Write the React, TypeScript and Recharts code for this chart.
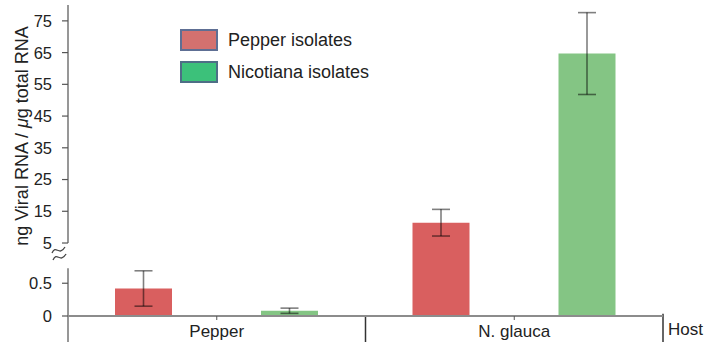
import React from 'react';
import {
  BarChart,
  Bar,
  XAxis,
  YAxis,
  ErrorBar,
  ReferenceLine,
  Legend,
} from 'recharts';

const hosts = ['Pepper', 'N. glauca'];
const pepperIsolates = [0.42, 11.4];
const pepperIsolatesSd = [0.27, 4.2];
const nicotianaIsolates = [0.08, 64.7];
const nicotianaIsolatesSd = [0.04, 12.9];
const yTicks = [0, 0.5, 5, 15, 25, 35, 45, 55, 65, 75];

// broken y axis: 0..0.5 stretched below the break, 5..80 above it
const LOWER_GAIN = 2.065;
const BREAK_AT = 2.3;
const UPPER_GAIN = 0.1;
const AXIS_TOP = BREAK_AT + (80 - 5) * UPPER_GAIN;
const LOWER_TOP = 1.505;
const FRAME_BOTTOM = -0.85;

const toAxis = (v: number) => (v <= 1 ? v * LOWER_GAIN : BREAK_AT + (v - 5) * UPPER_GAIN);
const axisTicks = yTicks.map(toAxis);

const spread = (v: number, e: number) => [toAxis(v) - toAxis(v - e), toAxis(v + e) - toAxis(v)];

const data = hosts.map((host, i) => ({
  host,
  pepper: toAxis(pepperIsolates[i]),
  pepperErr: spread(pepperIsolates[i], pepperIsolatesSd[i]),
  nicotiana: toAxis(nicotianaIsolates[i]),
  nicotianaErr: spread(nicotianaIsolates[i], nicotianaIsolatesSd[i]),
}));

const FONT = '"Liberation Sans", Arial, Helvetica, sans-serif';
const AXIS_GREY = '#8c8c8c';

const legendItems = [
  { label: 'Pepper isolates', fill: '#D4716F', border: '#5E6F94' },
  { label: 'Nicotiana isolates', fill: '#3CC17A', border: '#4E6E86' },
];

const tickLabel = (d: number) => {
  const i = axisTicks.findIndex((t) => Math.abs(t - d) < 1e-6);
  return i >= 0 ? String(yTicks[i]) : '';
};

const YTick = (props: any) => {
  const { x, y, payload } = props;
  const label = tickLabel(payload.value);
  return (
    <g>
      {/* tick mark */}
      <line x1={x + 10} x2={x + 16} y1={y} y2={y} stroke="#555" strokeWidth={1.2} />
      <text x={x} y={y} dy="0.36em" textAnchor="end" fill="#222" fontSize={16.5} fontFamily={FONT}>
        {label}
      </text>
      {label === '5' && (
        <g fill="none" stroke="#444" strokeWidth={1.3}>
          <path d={`M${x} ${y + 10} C${x + 4} ${y + 1} ${x + 7} ${y + 14} ${x + 13} ${y + 4}`} />
          <path d={`M${x + 1} ${y + 17} C${x + 5} ${y + 8} ${x + 8} ${y + 21} ${x + 14} ${y + 11}`} />
        </g>
      )}
    </g>
  );
};

const YLabel = (props: any) => {
  const { viewBox } = props;
  const cx = viewBox.x + 14;
  const cy = viewBox.y + 131;
  return (
    <text
      x={cx}
      y={cy}
      transform={`rotate(-90 ${cx} ${cy})`}
      textAnchor="middle"
      dominantBaseline="central"
      fontSize={18}
      fontFamily={FONT}
      fill="#222"
    >
      ng Viral RNA / <tspan fontStyle="italic">μ</tspan>g total RNA
    </text>
  );
};

const renderLegend = () => (
  <div style={{ fontFamily: FONT, fontSize: 18, color: '#222' }}>
    {legendItems.map((item) => (
      <div key={item.label} style={{ display: 'flex', alignItems: 'center', height: 22, marginBottom: 10 }}>
        <span
          style={{
            width: 34,
            height: 18,
            background: item.fill,
            border: `2px solid ${item.border}`,
            marginRight: 10,
          }}
        />
        {item.label}
      </div>
    ))}
  </div>
);

export default function App() {
  return (
    <div style={{ position: 'absolute', left: 0, top: 0, width: 706, height: 342, background: '#fff' }}>
      <BarChart
        width={706}
        height={342}
        data={data}
        margin={{ top: 5, right: 43, bottom: 0, left: 8 }}
        barSize={57}
        barGap={89}
      >
        <XAxis
          dataKey="host"
          height={26}
          axisLine={{ stroke: AXIS_GREY, strokeWidth: 2 }}
          tickLine={{ stroke: '#555' }}
          tickSize={4}
          tickMargin={5}
          tick={{ fill: '#222', fontSize: 17, fontFamily: FONT }}
          label={{ value: 'Host', position: 'right', offset: 5, fill: '#222', fontSize: 17, fontFamily: FONT }}
        />
        <XAxis xAxisId="frame" type="number" domain={[0, 1]} hide />
        <YAxis
          type="number"
          width={60}
          domain={[0, AXIS_TOP]}
          ticks={axisTicks}
          interval={0}
          axisLine={false}
          tickLine={false}
          tickSize={6}
          tickMargin={10}
          tick={<YTick />}
          label={<YLabel />}
        />
        <Legend
          layout="vertical"
          align="center"
          verticalAlign="middle"
          content={renderLegend}
          wrapperStyle={{ top: 29, left: 180, width: 260 }}
        />
        <Bar dataKey="pepper" name="Pepper isolates" fill="#D95F5F" isAnimationActive={false}>
          <ErrorBar dataKey="pepperErr" width={9} stroke="#000" strokeOpacity={0.5} strokeWidth={1.6} />
        </Bar>
        <Bar dataKey="nicotiana" name="Nicotiana isolates" fill="#84C584" isAnimationActive={false}>
          <ErrorBar dataKey="nicotianaErr" width={9} stroke="#000" strokeOpacity={0.5} strokeWidth={1.6} />
        </Bar>
        {/* y axis drawn in two pieces around the break */}
        <ReferenceLine
          xAxisId="frame"
          segment={[{ x: 0, y: BREAK_AT }, { x: 0, y: AXIS_TOP }]}
          stroke={AXIS_GREY}
          strokeWidth={1.8}
          ifOverflow="visible"
        />
        <ReferenceLine
          xAxisId="frame"
          segment={[{ x: 0, y: FRAME_BOTTOM }, { x: 0, y: LOWER_TOP }]}
          stroke={AXIS_GREY}
          strokeWidth={1.8}
          ifOverflow="visible"
        />
        {/* divider between hosts and the end of the host axis */}
        <ReferenceLine
          xAxisId="frame"
          segment={[{ x: 0.5, y: 0 }, { x: 0.5, y: FRAME_BOTTOM }]}
          stroke="#333"
          strokeWidth={1.5}
          ifOverflow="visible"
        />
        <ReferenceLine
          xAxisId="frame"
          segment={[{ x: 1, y: 0.07 }, { x: 1, y: FRAME_BOTTOM }]}
          stroke="#333"
          strokeWidth={1.5}
          ifOverflow="visible"
        />
      </BarChart>
    </div>
  );
}
